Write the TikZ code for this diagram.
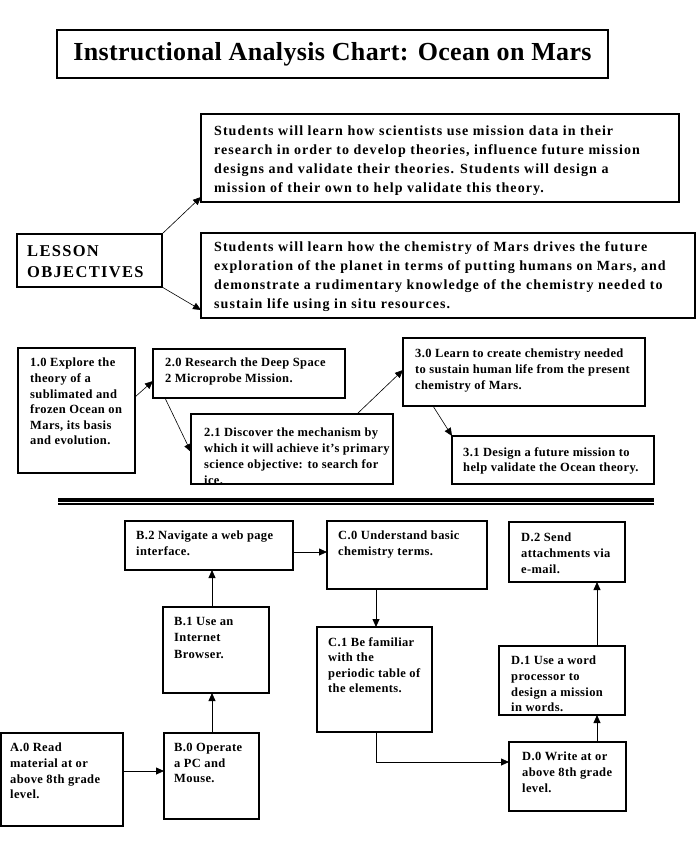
\documentclass[tikz,border=0pt]{standalone}
\usepackage{fontspec}
\setmainfont{Liberation Serif}
\usetikzlibrary{arrows.meta,calc}
\newcommand\mkbox[5]{\node[box,minimum width={(#4-#2)*1pt},minimum height={(#5-#3)*1pt}] (#1) at (#2,#3) {};}
\begin{document}
\begin{tikzpicture}[x=1pt,y=-1pt,
  box/.style={draw,line width=2.2pt,inner sep=0pt,outer sep=0pt,anchor=north west},
  txt/.style={anchor=north west,inner sep=0pt,align=left,font=\bfseries\fontsize{12.5}{15.6}\selectfont\addfontfeatures{LetterSpace=3}},
  objtxt/.style={txt,font=\bfseries\fontsize{14}{19}\selectfont\addfontfeatures{LetterSpace=7.5}},
  arr/.style={-{Triangle[length=8pt,width=7pt]},line width=0.8pt},
  thinarr/.style={-{Triangle[length=8pt,width=7pt]},line width=0.6pt}]
\useasboundingbox (0,0) rectangle (696,847);

% title
\node[box,line width=2.8pt,minimum width=551pt,minimum height=48pt,font=\bfseries\fontsize{26}{30}\selectfont\addfontfeatures{LetterSpace=1.3}] (title) at (57,30) {Instructional Analysis Chart: Ocean on Mars};

% objectives
\mkbox{obj1}{201}{114}{679}{202}
\mkbox{obj2}{201}{233}{695}{318}
\mkbox{lo}{17}{234}{162}{287}
\node[objtxt] (tobj1) at (214,125.5) {Students will learn how scientists use mission data in their\\research in order to develop theories, influence future mission\\designs and validate their theories. Students will design a\\mission of their own to help validate this theory.};
\node[objtxt] (tobj2) at (214,241.5) {Students will learn how the chemistry of Mars drives the future\\exploration of the planet in terms of putting humans on Mars, and\\demonstrate a rudimentary knowledge of the chemistry needed to\\sustain life using in situ resources.};
\node[txt,font=\bfseries\fontsize{16.5}{21.5}\selectfont\addfontfeatures{LetterSpace=8}] (tlo) at (27,245.3) {LESSON\\OBJECTIVES};
\draw[thinarr] (lo.north east) -- ($(obj1.south west)+(0,-5)$);
\draw[thinarr] (lo.south east) -- ($(obj2.south west)+(0,-8)$);

% middle row
\mkbox{n10}{18}{348}{135}{473}
\mkbox{n20}{153}{349}{345}{398}
\mkbox{n21}{191}{414}{393}{484}
\mkbox{n30}{403}{338}{645}{406}
\mkbox{n31}{452}{436}{654}{484}
\node[txt] (t10) at (30,358) {1.0 Explore the\\theory of a\\sublimated and\\frozen Ocean on\\Mars, its basis\\and evolution.};
\node[txt] (t20) at (165,358) {2.0 Research the Deep Space\\2 Microprobe Mission.};
\begin{scope}
\clip (191,414) rectangle (393,483.5);
\node[txt,font=\bfseries\fontsize{12.5}{16}\selectfont\addfontfeatures{LetterSpace=3}] (t21) at (204,428) {2.1 Discover the mechanism by\\which it will achieve it's primary\\science objective: to search for\\ice.};
\end{scope}
\node[txt] (t30) at (415,349) {3.0 Learn to create chemistry needed\\to sustain human life from the present\\chemistry of Mars.};
\node[txt] (t31) at (463,447) {3.1 Design a future mission to\\help validate the Ocean theory.};
\draw[thinarr] ($(n10.north east)+(0,49)$) -- ($(n20.north west)+(0,32)$);
\draw[thinarr] ($(n20.south west)+(12,0)$) -- ($(n21.north west)+(0,38)$);
\draw[thinarr] ($(n21.north west)+(166,0)$) -- ($(n30.north west)+(0,32)$);
\draw[thinarr] ($(n30.south west)+(30,0)$) -- (n31.north west);

% separator
\draw[line width=4pt] (58,499.5) -- (654,499.5);
\draw[line width=1.7pt] (58,504.2) -- (654,504.2);

% bottom chart
\mkbox{b2}{125}{521}{293}{570}
\mkbox{c0}{327}{521}{487}{589}
\mkbox{d2}{509}{522}{625}{582}
\mkbox{b1}{163}{607}{269}{693}
\mkbox{c1}{317}{627}{432}{732}
\mkbox{d1}{499}{646}{625}{715}
\mkbox{a0}{1}{733}{123}{826}
\mkbox{b0}{164}{733}{259}{819}
\mkbox{d0}{509}{742}{626}{811}
\node[txt] (tb2) at (136,531) {B.2 Navigate a web page\\interface.};
\node[txt] (tc0) at (338,531) {C.0 Understand basic\\chemistry terms.};
\node[txt] (td2) at (521,533) {D.2 Send\\attachments via\\e-mail.};
\node[txt,font=\bfseries\fontsize{12.5}{16.5}\selectfont\addfontfeatures{LetterSpace=3}] (tb1) at (174,617) {B.1 Use an\\Internet\\Browser.};
\node[txt] (tc1) at (328,637) {C.1 Be familiar\\with the\\periodic table of\\the elements.};
\node[txt] (td1) at (511,656) {D.1 Use a word\\processor to\\design a mission\\in words.};
\node[txt] (ta0) at (10,743) {A.0 Read\\material at or\\above 8th grade\\level.};
\node[txt] (tb0) at (174,743) {B.0 Operate\\a PC and\\Mouse.};
\node[txt] (td0) at (522,752) {D.0 Write at or\\above 8th grade\\level.};

\draw[arr] ($(a0.north east)+(0,38)$) -- ($(b0.north west)+(0,38)$);
\draw[arr] ($(b0.north west)+(48,0)$) coordinate (p1) -- (p1 |- b1.south);
\draw[arr] ($(b1.north west)+(49,0)$) coordinate (p2) -- (p2 |- b2.south);
\draw[arr] ($(b2.north east)+(0,31)$) coordinate (p3) -- (p3 -| c0.west);
\draw[arr] ($(c0.south west)+(49,0)$) coordinate (p4) -- (p4 |- c1.north);
\draw[arr] ($(c1.south west)+(59,0)$) |- ($(d0.north west)+(0,20)$);
\draw[arr] ($(d0.north west)+(88,0)$) coordinate (p5) -- (p5 |- d1.south);
\draw[arr] ($(d1.north west)+(98,0)$) coordinate (p6) -- (p6 |- d2.south);
\end{tikzpicture}
\end{document}
